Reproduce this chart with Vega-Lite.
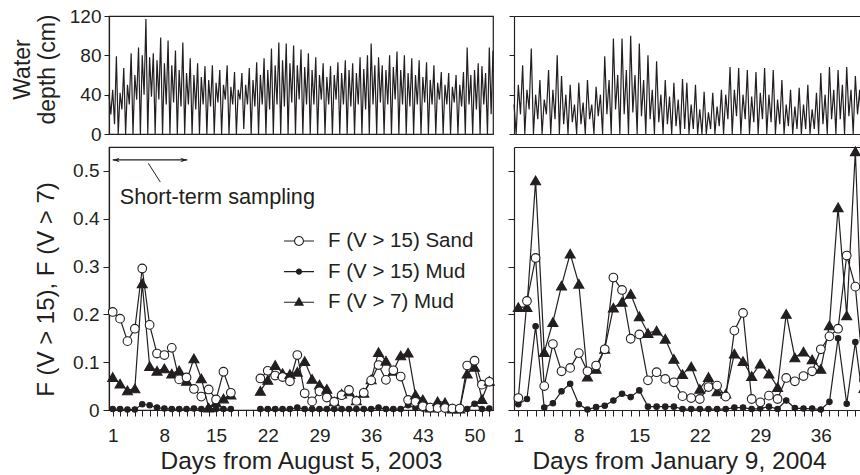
{
"$schema": "https://vega.github.io/schema/vega-lite/v6.json",
"background": "white",
"padding": {"left": 10, "top": 6, "right": -5, "bottom": 0},
"config": {
  "font": "Liberation Sans",
  "view": {"stroke": "#231f20", "strokeWidth": 1.2},
  "axis": {"grid": false, "domainColor": "#231f20", "tickColor": "#231f20", "labelColor": "#231f20", "titleColor": "#231f20", "domainWidth": 1.2, "tickWidth": 1, "labelFont": "Liberation Sans", "titleFont": "Liberation Sans", "titleFontWeight": "normal", "labelFlush": false, "labelOverlap": false, "labelBound": false}
},
"datasets": {
"tl": [
{"t":0.5,"w":40},{"t":0.75,"w":20},{"t":1,"w":45},{"t":1.25,"w":10},{"t":1.5,"w":79},{"t":1.75,"w":0},{"t":2,"w":42},{"t":2.25,"w":25},{"t":2.5,"w":67},{"t":2.75,"w":0},
{"t":3,"w":50},{"t":3.25,"w":30},{"t":3.5,"w":82},{"t":3.75,"w":0},{"t":4,"w":60},{"t":4.25,"w":35},{"t":4.5,"w":88},{"t":4.75,"w":0},{"t":5,"w":80},{"t":5.25,"w":40},
{"t":5.5,"w":117},{"t":5.75,"w":0},{"t":6,"w":78},{"t":6.25,"w":38},{"t":6.5,"w":82},{"t":6.75,"w":0},{"t":7,"w":75},{"t":7.25,"w":35},{"t":7.5,"w":98},{"t":7.75,"w":0},
{"t":8,"w":72},{"t":8.25,"w":30},{"t":8.5,"w":95},{"t":8.75,"w":0},{"t":9,"w":70},{"t":9.25,"w":32},{"t":9.5,"w":85},{"t":9.75,"w":0},{"t":10,"w":65},{"t":10.25,"w":28},
{"t":10.5,"w":93},{"t":10.75,"w":0},{"t":11,"w":62},{"t":11.25,"w":30},{"t":11.5,"w":77},{"t":11.75,"w":0},{"t":12,"w":60},{"t":12.25,"w":25},{"t":12.5,"w":72},{"t":12.75,"w":0},
{"t":13,"w":58},{"t":13.25,"w":30},{"t":13.5,"w":69},{"t":13.75,"w":0},{"t":14,"w":55},{"t":14.25,"w":28},{"t":14.5,"w":70},{"t":14.75,"w":0},{"t":15,"w":52},{"t":15.25,"w":32},
{"t":15.5,"w":65},{"t":15.75,"w":0},{"t":16,"w":50},{"t":16.25,"w":35},{"t":16.5,"w":70},{"t":16.75,"w":0},{"t":17,"w":48},{"t":17.25,"w":30},{"t":17.5,"w":63},{"t":17.75,"w":0},
{"t":18,"w":45},{"t":18.25,"w":35},{"t":18.5,"w":62},{"t":18.75,"w":5},{"t":19,"w":50},{"t":19.25,"w":30},{"t":19.5,"w":67},{"t":19.75,"w":0},{"t":20,"w":55},{"t":20.25,"w":28},
{"t":20.5,"w":73},{"t":20.75,"w":0},{"t":21,"w":60},{"t":21.25,"w":30},{"t":21.5,"w":77},{"t":21.75,"w":0},{"t":22,"w":65},{"t":22.25,"w":25},{"t":22.5,"w":87},{"t":22.75,"w":0},
{"t":23,"w":70},{"t":23.25,"w":30},{"t":23.5,"w":93},{"t":23.75,"w":0},{"t":24,"w":75},{"t":24.25,"w":28},{"t":24.5,"w":92},{"t":24.75,"w":0},{"t":25,"w":72},{"t":25.25,"w":32},
{"t":25.5,"w":90},{"t":25.75,"w":0},{"t":26,"w":70},{"t":26.25,"w":35},{"t":26.5,"w":86},{"t":26.75,"w":0},{"t":27,"w":68},{"t":27.25,"w":30},{"t":27.5,"w":82},{"t":27.75,"w":0},
{"t":28,"w":65},{"t":28.25,"w":30},{"t":28.5,"w":78},{"t":28.75,"w":0},{"t":29,"w":60},{"t":29.25,"w":35},{"t":29.5,"w":72},{"t":29.75,"w":0},{"t":30,"w":58},{"t":30.25,"w":30},
{"t":30.5,"w":69},{"t":30.75,"w":0},{"t":31,"w":60},{"t":31.25,"w":35},{"t":31.5,"w":73},{"t":31.75,"w":0},{"t":32,"w":62},{"t":32.25,"w":30},{"t":32.5,"w":75},{"t":32.75,"w":0},
{"t":33,"w":65},{"t":33.25,"w":28},{"t":33.5,"w":72},{"t":33.75,"w":0},{"t":34,"w":62},{"t":34.25,"w":30},{"t":34.5,"w":78},{"t":34.75,"w":0},{"t":35,"w":66},{"t":35.25,"w":25},
{"t":35.5,"w":80},{"t":35.75,"w":0},{"t":36,"w":92},{"t":36.25,"w":30},{"t":36.5,"w":70},{"t":36.75,"w":0},{"t":37,"w":78},{"t":37.25,"w":32},{"t":37.5,"w":70},{"t":37.75,"w":0},
{"t":38,"w":65},{"t":38.25,"w":30},{"t":38.5,"w":80},{"t":38.75,"w":0},{"t":39,"w":68},{"t":39.25,"w":35},{"t":39.5,"w":84},{"t":39.75,"w":0},{"t":40,"w":65},{"t":40.25,"w":30},
{"t":40.5,"w":80},{"t":40.75,"w":0},{"t":41,"w":62},{"t":41.25,"w":28},{"t":41.5,"w":77},{"t":41.75,"w":0},{"t":42,"w":60},{"t":42.25,"w":30},{"t":42.5,"w":75},{"t":42.75,"w":0},
{"t":43,"w":58},{"t":43.25,"w":32},{"t":43.5,"w":73},{"t":43.75,"w":0},{"t":44,"w":55},{"t":44.25,"w":30},{"t":44.5,"w":70},{"t":44.75,"w":0},{"t":45,"w":52},{"t":45.25,"w":35},
{"t":45.5,"w":63},{"t":45.75,"w":0},{"t":46,"w":50},{"t":46.25,"w":30},{"t":46.5,"w":62},{"t":46.75,"w":0},{"t":47,"w":48},{"t":47.25,"w":32},{"t":47.5,"w":60},{"t":47.75,"w":0},
{"t":48,"w":50},{"t":48.25,"w":28},{"t":48.5,"w":63},{"t":48.75,"w":0},{"t":49,"w":88},{"t":49.25,"w":30},{"t":49.5,"w":60},{"t":49.75,"w":0},{"t":50,"w":65},{"t":50.25,"w":25},
{"t":50.5,"w":72},{"t":50.75,"w":0},{"t":51,"w":69},{"t":51.25,"w":30},{"t":51.5,"w":62},{"t":51.75,"w":0},{"t":52,"w":88},{"t":52.25,"w":20},{"t":52.5,"w":85}
],
"tr": [
{"t":0.5,"w":30},{"t":0.75,"w":0},{"t":1,"w":50},{"t":1.25,"w":20},{"t":1.5,"w":70},{"t":1.75,"w":0},{"t":2,"w":45},{"t":2.25,"w":25},{"t":2.5,"w":87},{"t":2.75,"w":0},
{"t":3,"w":40},{"t":3.25,"w":15},{"t":3.5,"w":55},{"t":3.75,"w":0},{"t":4,"w":35},{"t":4.25,"w":20},{"t":4.5,"w":65},{"t":4.75,"w":0},{"t":5,"w":45},{"t":5.25,"w":15},
{"t":5.5,"w":80},{"t":5.75,"w":0},{"t":6,"w":59},{"t":6.25,"w":10},{"t":6.5,"w":40},{"t":6.75,"w":0},{"t":7,"w":50},{"t":7.25,"w":12},{"t":7.5,"w":30},{"t":7.75,"w":0},
{"t":8,"w":52},{"t":8.25,"w":10},{"t":8.5,"w":32},{"t":8.75,"w":0},{"t":9,"w":55},{"t":9.25,"w":15},{"t":9.5,"w":30},{"t":9.75,"w":0},{"t":10,"w":48},{"t":10.25,"w":18},
{"t":10.5,"w":40},{"t":10.75,"w":0},{"t":11,"w":79},{"t":11.25,"w":20},{"t":11.5,"w":55},{"t":11.75,"w":0},{"t":12,"w":97},{"t":12.25,"w":25},{"t":12.5,"w":60},{"t":12.75,"w":0},
{"t":13,"w":97},{"t":13.25,"w":20},{"t":13.5,"w":65},{"t":13.75,"w":0},{"t":14,"w":100},{"t":14.25,"w":22},{"t":14.5,"w":60},{"t":14.75,"w":0},{"t":15,"w":92},{"t":15.25,"w":18},
{"t":15.5,"w":55},{"t":15.75,"w":0},{"t":16,"w":80},{"t":16.25,"w":15},{"t":16.5,"w":45},{"t":16.75,"w":0},{"t":17,"w":74},{"t":17.25,"w":12},{"t":17.5,"w":40},{"t":17.75,"w":0},
{"t":18,"w":55},{"t":18.25,"w":10},{"t":18.5,"w":38},{"t":18.75,"w":0},{"t":19,"w":52},{"t":19.25,"w":8},{"t":19.5,"w":35},{"t":19.75,"w":0},{"t":20,"w":56},{"t":20.25,"w":5},
{"t":20.5,"w":52},{"t":20.75,"w":0},{"t":21,"w":30},{"t":21.25,"w":5},{"t":21.5,"w":50},{"t":21.75,"w":0},{"t":22,"w":25},{"t":22.25,"w":0},{"t":22.5,"w":43},{"t":22.75,"w":0},
{"t":23,"w":22},{"t":23.25,"w":5},{"t":23.5,"w":42},{"t":23.75,"w":0},{"t":24,"w":28},{"t":24.25,"w":8},{"t":24.5,"w":45},{"t":24.75,"w":0},{"t":25,"w":40},{"t":25.25,"w":15},
{"t":25.5,"w":68},{"t":25.75,"w":0},{"t":26,"w":45},{"t":26.25,"w":18},{"t":26.5,"w":67},{"t":26.75,"w":0},{"t":27,"w":40},{"t":27.25,"w":15},{"t":27.5,"w":65},{"t":27.75,"w":0},
{"t":28,"w":38},{"t":28.25,"w":12},{"t":28.5,"w":63},{"t":28.75,"w":0},{"t":29,"w":42},{"t":29.25,"w":15},{"t":29.5,"w":67},{"t":29.75,"w":0},{"t":30,"w":40},{"t":30.25,"w":12},
{"t":30.5,"w":65},{"t":30.75,"w":0},{"t":31,"w":35},{"t":31.25,"w":10},{"t":31.5,"w":55},{"t":31.75,"w":0},{"t":32,"w":30},{"t":32.25,"w":8},{"t":32.5,"w":45},{"t":32.75,"w":0},
{"t":33,"w":28},{"t":33.25,"w":5},{"t":33.5,"w":47},{"t":33.75,"w":0},{"t":34,"w":30},{"t":34.25,"w":5},{"t":34.5,"w":50},{"t":34.75,"w":0},{"t":35,"w":25},{"t":35.25,"w":5},
{"t":35.5,"w":42},{"t":35.75,"w":0},{"t":36,"w":62},{"t":36.25,"w":10},{"t":36.5,"w":40},{"t":36.75,"w":0},{"t":37,"w":68},{"t":37.25,"w":15},{"t":37.5,"w":45},{"t":37.75,"w":0},
{"t":38,"w":65},{"t":38.25,"w":15},{"t":38.5,"w":50},{"t":38.75,"w":0},{"t":39,"w":68},{"t":39.25,"w":18},{"t":39.5,"w":45},{"t":39.75,"w":0},{"t":40,"w":59},{"t":40.25,"w":20},
{"t":40.5,"w":45},{"t":40.75,"w":0},{"t":41,"w":55}
],
"bl": [
{"d":1,"s":0.205,"m":0.002,"t":0.069,"g":1},{"d":2,"s":0.191,"m":0.002,"t":0.055,"g":1},{"d":3,"s":0.144,"m":0.001,"t":0.041,"g":1},{"d":4,"s":0.170,"m":0.001,"t":0.045,"g":1},
{"d":5,"s":0.296,"m":0.012,"t":0.265,"g":1},{"d":6,"s":0.178,"m":0.010,"t":0.092,"g":1},{"d":7,"s":0.118,"m":0.005,"t":0.082,"g":1},{"d":8,"s":0.115,"m":0.003,"t":0.087,"g":1},
{"d":9,"s":0.130,"m":0.002,"t":0.076,"g":1},{"d":10,"s":0.064,"m":0.002,"t":0.083,"g":1},{"d":11,"s":0.068,"m":0.002,"t":0.061,"g":1},{"d":12,"s":0.044,"m":0.003,"t":0.108,"g":1},
{"d":13,"s":0.028,"m":0.002,"t":0.066,"g":1},{"d":14,"s":0.043,"m":0.004,"t":0.005,"g":1},{"d":15,"s":0.022,"m":0.002,"t":0.016,"g":1},{"d":16,"s":0.080,"m":0.002,"t":0.024,"g":1},
{"d":17,"s":0.036,"m":0.002,"t":0.032,"g":1},
{"d":21,"s":0.066,"m":0.002,"t":0.040,"g":2},{"d":22,"s":0.082,"m":0.002,"t":0.063,"g":2},{"d":23,"s":0.072,"m":0.002,"t":0.094,"g":2},{"d":24,"s":0.069,"m":0.002,"t":0.077,"g":2},
{"d":25,"s":0.060,"m":0.002,"t":0.075,"g":2},{"d":26,"s":0.115,"m":0.005,"t":0.080,"g":2},{"d":27,"s":0.035,"m":0.002,"t":0.102,"g":2},{"d":28,"s":0.018,"m":0.002,"t":0.065,"g":2},
{"d":29,"s":0.039,"m":0.002,"t":0.053,"g":2},{"d":30,"s":0.026,"m":0.002,"t":0.044,"g":2},{"d":31,"s":0.017,"m":0.002,"t":0.018,"g":2},{"d":32,"s":0.031,"m":0.002,"t":0.034,"g":2},
{"d":33,"s":0.042,"m":0.002,"t":0.039,"g":2},{"d":34,"s":0.019,"m":0.002,"t":0.020,"g":2},{"d":35,"s":0.036,"m":0.002,"t":0.036,"g":2},{"d":36,"s":0.062,"m":0.002,"t":0.064,"g":2},
{"d":37,"s":0.094,"m":0.005,"t":0.121,"g":2},{"d":38,"s":0.063,"m":0.002,"t":0.103,"g":2},{"d":39,"s":0.083,"m":0.002,"t":0.082,"g":2},{"d":40,"s":0.070,"m":0.002,"t":0.114,"g":2},
{"d":41,"s":0.021,"m":0.010,"t":0.120,"g":2},{"d":42,"s":0.017,"m":0.004,"t":0.032,"g":2},{"d":43,"s":0.008,"m":0.003,"t":0.022,"g":2},{"d":44,"s":0.005,"m":0.003,"t":0.005,"g":2},
{"d":45,"s":0.004,"m":0.003,"t":0.018,"g":2},{"d":46,"s":0.004,"m":0.003,"t":0.016,"g":2},{"d":47,"s":0.003,"m":0.001,"t":0.003,"g":2},{"d":48,"s":0.003,"m":0.002,"t":0.003,"g":2},
{"d":49,"s":0.093,"m":0.002,"t":0.076,"g":2},{"d":50,"s":0.103,"m":0.013,"t":0.090,"g":2},{"d":51,"s":0.053,"m":0.002,"t":0.023,"g":2},{"d":52,"s":0.059,"m":0.003,"t":0.061,"g":2}
],
"br": [
{"d":1,"s":0.025,"m":0.012,"t":0.215,"g":1},{"d":2,"s":0.228,"m":0.023,"t":0.215,"g":1},{"d":3,"s":0.318,"m":0.175,"t":0.480,"g":1},{"d":4,"s":0.050,"m":0.005,"t":0.121,"g":1},
{"d":5,"s":0.138,"m":0.014,"t":0.184,"g":1},{"d":6,"s":0.081,"m":0.039,"t":0.260,"g":1},{"d":7,"s":0.088,"m":0.055,"t":0.327,"g":1},{"d":8,"s":0.119,"m":0.012,"t":0.264,"g":1},
{"d":9,"s":0.081,"m":0.001,"t":0.070,"g":1},{"d":10,"s":0.093,"m":0.006,"t":0.086,"g":1},{"d":11,"s":0.127,"m":0.009,"t":0.128,"g":1},{"d":12,"s":0.277,"m":0.020,"t":0.214,"g":1},
{"d":13,"s":0.251,"m":0.034,"t":0.226,"g":1},{"d":14,"s":0.149,"m":0.027,"t":0.243,"g":1},{"d":15,"s":0.158,"m":0.041,"t":0.196,"g":1},{"d":16,"s":0.062,"m":0.007,"t":0.161,"g":1},
{"d":17,"s":0.079,"m":0.007,"t":0.166,"g":1},{"d":18,"s":0.065,"m":0.007,"t":0.149,"g":1},{"d":19,"s":0.058,"m":0.007,"t":0.107,"g":1},{"d":20,"s":0.029,"m":0.002,"t":0.075,"g":1},
{"d":21,"s":0.025,"m":0.002,"t":0.091,"g":1},{"d":22,"s":0.023,"m":0.002,"t":0.044,"g":1},{"d":23,"s":0.048,"m":0.002,"t":0.069,"g":1},{"d":24,"s":0.051,"m":0.002,"t":0.039,"g":1},
{"d":25,"s":0.028,"m":0.002,"t":0.034,"g":1},{"d":26,"s":0.166,"m":0.005,"t":0.118,"g":1},{"d":27,"s":0.203,"m":0.005,"t":0.102,"g":1},{"d":28,"s":0.023,"m":0.002,"t":0.071,"g":1},
{"d":29,"s":0.016,"m":0.003,"t":0.097,"g":1},{"d":30,"s":0.030,"m":0.007,"t":0.076,"g":1},{"d":31,"s":0.023,"m":0.002,"t":0.048,"g":1},{"d":32,"s":0.067,"m":0.020,"t":0.201,"g":1},
{"d":33,"s":0.060,"m":0.004,"t":0.110,"g":1},{"d":34,"s":0.071,"m":0.003,"t":0.122,"g":1},{"d":35,"s":0.081,"m":0.003,"t":0.106,"g":1},{"d":36,"s":0.127,"m":0.001,"t":0.086,"g":1},
{"d":37,"s":0.154,"m":0.017,"t":0.177,"g":1},{"d":38,"s":0.170,"m":0.150,"t":0.424,"g":1},{"d":39,"s":0.323,"m":0.013,"t":0.198,"g":1},{"d":40,"s":0.258,"m":0.142,"t":0.541,"g":1},
{"d":41,"s":0.062,"m":0.003,"t":0.046,"g":1}
]
},
"spacing": 9,
"hconcat": [
{
 "bounds": "flush",
 "spacing": 13,
 "vconcat": [
  {
   "width": 384, "height": 118,
   "data": {"name": "tl"},
   "mark": {"type": "line", "color": "#231f20", "strokeWidth": 1.2},
   "encoding": {
    "x": {"field": "t", "type": "quantitative", "scale": {"domain": [0.5, 52.5], "nice": false, "zero": false}, "axis": null},
    "y": {"field": "w", "type": "quantitative", "scale": {"domain": [0, 120], "nice": false}, "axis": {"values": [0, 40, 80, 120], "tickSize": 5, "labelPadding": 3, "labelFontSize": 19, "title": ["Water", "depth (cm)"], "titleFontSize": 23, "titleLineHeight": 25, "titlePadding": 10, "titleY": 53}}
   }
  },
  {
   "width": 384, "height": 263,
   "resolve": {"axis": {"x": "independent"}},
   "layer": [
    {
     "data": {"name": "bl"},
     "transform": [{"fold": ["t", "m", "s"], "as": ["series", "v"]}],
     "mark": {"type": "line", "color": "#231f20", "strokeWidth": 1.2},
     "encoding": {
      "x": {"field": "d", "type": "quantitative", "scale": {"domain": [0.5, 52.5], "nice": false, "zero": false},
            "axis": {"values": [1,2,3,4,5,6,7,8,9,10,11,12,13,14,15,16,17,18,19,20,21,22,23,24,25,26,27,28,29,30,31,32,33,34,35,36,37,38,39,40,41,42,43,44,45,46,47,48,49,50,51,52],
                     "labelExpr": "(datum.value - 1) % 7 === 0 ? '' + datum.value : ''", "tickSize": 6, "labelPadding": 10, "labelFontSize": 19, "title": "Days from August 5, 2003", "titleFontSize": 24.5, "titlePadding": 4}},
      "y": {"field": "v", "type": "quantitative", "scale": {"domain": [0, 0.55], "nice": false},
            "axis": {"values": [0, 0.1, 0.2, 0.3, 0.4, 0.5], "labelExpr": "datum.value === 0 ? '0' : format(datum.value, '.1f')", "tickSize": 6, "labelPadding": 4, "labelFontSize": 19, "title": "F (V > 15), F (V > 7)", "titleFontSize": 24, "titlePadding": 14, "titleY": 142}},
      "detail": [{"field": "series"}, {"field": "g"}]
     }
    },
    {
     "data": {"name": "bl"},
     "transform": [{"fold": ["t", "m", "s"], "as": ["series", "v"]}],
     "mark": {"type": "point", "filled": true, "stroke": "#231f20", "strokeWidth": 1.1, "opacity": 1},
     "encoding": {
      "x": {"field": "d", "type": "quantitative", "axis": null},
      "y": {"field": "v", "type": "quantitative"},
      "shape": {"condition": {"test": "datum.series === 't'", "value": "triangle-up"}, "value": "circle"},
      "fill": {"condition": {"test": "datum.series === 's'", "value": "white"}, "value": "#231f20"},
      "size": {"condition": [{"test": "datum.series === 'm'", "value": 30}, {"test": "datum.series === 't'", "value": 100}], "value": 75}
     }
    },
    {
     "data": {"name": "bl"},
     "transform": [{"fold": ["t", "m", "s"], "as": ["series", "v"]}],
     "mark": {"type": "point", "filled": true, "color": "#231f20", "opacity": 0},
     "encoding": {
      "x": {"field": "d", "type": "quantitative", "axis": null},
      "y": {"field": "v", "type": "quantitative"},
      "shape": {"field": "series", "type": "nominal",
        "scale": {"domain": ["s", "m", "t"], "range": [
          "M-1,-0.037L-0.33,-0.037L-0.33,0.037L-1,0.037ZM0.33,-0.037L1,-0.037L1,0.037L0.33,0.037ZM-0.33,0A0.33,0.33,0,1,1,0.33,0A0.33,0.33,0,1,1,-0.33,0ZM-0.26,0A0.26,0.26,0,1,0,0.26,0A0.26,0.26,0,1,0,-0.26,0Z",
          "M-1,-0.037L1,-0.037L1,0.037L-1,0.037ZM-0.21,0A0.21,0.21,0,1,1,0.21,0A0.21,0.21,0,1,1,-0.21,0Z",
          "M-1,-0.037L1,-0.037L1,0.037L-1,0.037ZM0,-0.36L0.34,0.23L-0.34,0.23Z"]},
        "legend": {"orient": "none", "legendX": 175, "legendY": 210, "title": null, "padding": 0, "symbolSize": 900, "symbolStrokeWidth": 0, "symbolFillColor": "#231f20", "symbolOpacity": 1,
                   "labelFontSize": 20.5, "labelFont": "Liberation Sans", "labelColor": "#231f20", "labelOffset": 14, "rowPadding": 4.6, "labelLimit": 400,
                   "labelExpr": "datum.value === 's' ? 'F (V > 15) Sand' : (datum.value === 'm' ? 'F (V > 15) Mud' : 'F (V > 7) Mud')"}}
     }
    },
    {
     "data": {"values": [{}]},
     "mark": {"type": "rule", "color": "#231f20", "strokeWidth": 1.2},
     "encoding": {"x": {"datum": 1.0, "type": "quantitative", "axis": null}, "x2": {"datum": 11.1}, "y": {"datum": 0.523, "type": "quantitative"}}
    },
    {
     "data": {"values": [{}]},
     "mark": {"type": "point", "filled": true, "color": "#231f20", "opacity": 1, "size": 196, "shape": "M0,0L1,-0.32L0.7,0L1,0.32Z"},
     "encoding": {"x": {"datum": 1.0, "type": "quantitative", "axis": null}, "y": {"datum": 0.523, "type": "quantitative"}}
    },
    {
     "data": {"values": [{}]},
     "mark": {"type": "point", "filled": true, "color": "#231f20", "opacity": 1, "size": 196, "shape": "M0,0L-1,-0.32L-0.7,0L-1,0.32Z"},
     "encoding": {"x": {"datum": 11.1, "type": "quantitative", "axis": null}, "y": {"datum": 0.523, "type": "quantitative"}}
    },
    {
     "data": {"values": [{}]},
     "mark": {"type": "rule", "color": "#231f20", "strokeWidth": 1},
     "encoding": {"x": {"datum": 5.82, "type": "quantitative", "axis": null}, "x2": {"datum": 7.45}, "y": {"datum": 0.516, "type": "quantitative"}, "y2": {"datum": 0.4766}}
    },
    {
     "data": {"values": [{}]},
     "mark": {"type": "text", "align": "left", "baseline": "alphabetic", "fontSize": 21.7, "font": "Liberation Sans", "color": "#231f20"},
     "encoding": {"x": {"datum": 1.95, "type": "quantitative", "axis": null}, "y": {"datum": 0.431, "type": "quantitative"}, "text": {"value": "Short-term sampling"}}
    }
   ]
  }
 ]
},
{
 "bounds": "flush",
 "spacing": 13,
 "vconcat": [
  {
   "width": 350, "height": 118,
   "view": {"stroke": null},
   "data": {"name": "tr"},
   "resolve": {"axis": {"x": "independent"}},
   "layer": [
    {
     "mark": {"type": "line", "color": "#231f20", "strokeWidth": 1.2},
     "encoding": {
      "x": {"field": "t", "type": "quantitative", "scale": {"domain": [0.5, 41.0], "nice": false, "zero": false}, "axis": {"orient": "bottom", "domain": true, "ticks": false, "labels": false, "title": null}},
      "y": {"field": "w", "type": "quantitative", "scale": {"domain": [0, 120], "nice": false}, "axis": {"values": [0, 40, 80, 120], "tickSize": 5, "labels": false, "title": null, "domain": true}}
     }
    },
    {
     "mark": {"type": "line", "color": "#231f20", "strokeWidth": 1, "opacity": 0},
     "encoding": {
      "x": {"field": "t", "type": "quantitative", "axis": {"orient": "top", "domain": true, "ticks": false, "labels": false, "title": null}},
      "y": {"field": "w", "type": "quantitative", "axis": {"values": [0, 40, 80, 120], "tickSize": 5, "labels": false, "title": null, "domain": true}}
     }
    }
   ]
  },
  {
   "width": 350, "height": 263,
   "view": {"stroke": null},
   "data": {"name": "br"},
   "transform": [{"fold": ["t", "m", "s"], "as": ["series", "v"]}],
   "resolve": {"axis": {"x": "independent"}},
   "layer": [
    {
     "mark": {"type": "line", "color": "#231f20", "strokeWidth": 1.2},
     "encoding": {
      "x": {"field": "d", "type": "quantitative", "scale": {"domain": [0.5, 41.0], "nice": false, "zero": false},
            "axis": {"orient": "bottom", "values": [1,2,3,4,5,6,7,8,9,10,11,12,13,14,15,16,17,18,19,20,21,22,23,24,25,26,27,28,29,30,31,32,33,34,35,36,37,38,39,40,41],
                     "labelExpr": "(datum.value - 1) % 7 === 0 ? '' + datum.value : ''", "tickSize": 6, "labelPadding": 10, "labelFontSize": 19, "title": "Days from January 9, 2004", "titleFontSize": 24.5, "titlePadding": 4, "titleX": 165}},
      "y": {"field": "v", "type": "quantitative", "scale": {"domain": [0, 0.55], "nice": false},
            "axis": {"values": [0, 0.1, 0.2, 0.3, 0.4, 0.5], "tickSize": 6, "labels": false, "title": null, "domain": true}},
      "detail": [{"field": "series"}, {"field": "g"}]
     }
    },
    {
     "mark": {"type": "point", "filled": true, "stroke": "#231f20", "strokeWidth": 1.1, "opacity": 1},
     "encoding": {
      "x": {"field": "d", "type": "quantitative", "axis": {"orient": "top", "domain": true, "ticks": false, "labels": false, "title": null}},
      "y": {"field": "v", "type": "quantitative", "axis": {"values": [0, 0.1, 0.2, 0.3, 0.4, 0.5], "tickSize": 6, "labels": false, "title": null, "domain": true}},
      "shape": {"condition": {"test": "datum.series === 't'", "value": "triangle-up"}, "value": "circle"},
      "fill": {"condition": {"test": "datum.series === 's'", "value": "white"}, "value": "#231f20"},
      "size": {"condition": [{"test": "datum.series === 'm'", "value": 30}, {"test": "datum.series === 't'", "value": 100}], "value": 75}
     }
    }
   ]
  }
 ]
}
]
}
